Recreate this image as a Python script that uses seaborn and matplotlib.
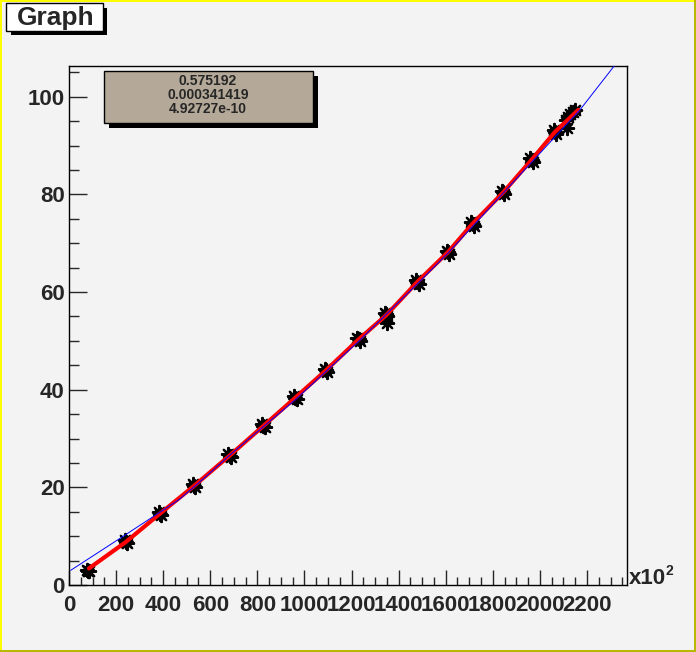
import matplotlib
matplotlib.use("Agg")
import matplotlib.pyplot as plt
from matplotlib.patches import Rectangle
from matplotlib.ticker import MultipleLocator
import pandas as pd
import seaborn as sns

# measured points (x in units of 10^2)
STAR_X = [76, 82, 87, 236, 241, 246, 381, 386, 391, 526, 531, 536, 677, 682, 687,
          821, 826, 831, 957, 962, 967, 1087, 1092, 1097, 1225, 1230, 1235,
          1343, 1348, 1352, 1350, 1475, 1480, 1485, 1605, 1610, 1615,
          1709, 1714, 1719, 1839, 1844, 1849, 1960, 1965, 1970,
          2058, 2064, 2069, 2116, 2110, 2120, 2130, 2140, 2150]
STAR_Y = [3.1, 2.8, 2.9, 9.2, 8.8, 8.6, 15.0, 14.6, 14.3, 20.7, 20.3, 20.0, 26.9, 26.5, 26.2,
          33.0, 32.6, 32.3, 38.7, 38.4, 38.1, 44.3, 44.0, 43.6, 50.6, 50.3, 49.9,
          55.8, 55.5, 55.1, 53.6, 62.5, 62.1, 61.7, 68.5, 68.2, 67.8,
          74.3, 74.0, 73.6, 80.7, 80.4, 80.0, 87.4, 87.1, 86.7,
          93.1, 92.8, 92.4, 93.5, 95.3, 95.9, 96.4, 96.9, 97.3]

# red curve through the measurements
RED_X = [85, 241, 386, 531, 682, 826, 962, 1092, 1230, 1348, 1480, 1610, 1714, 1844, 1965, 2064, 2163]
RED_Y = [3.4, 8.8, 14.6, 20.3, 26.5, 32.6, 38.4, 44.0, 50.3, 55.3, 62.1, 68.2, 74.0, 80.4, 87.1, 92.8, 97.3]

# blue fit curve
BLUE_X = [7, 234, 468, 567, 695, 960, 1230, 1480, 1610, 1801, 1965, 2170, 2330]
BLUE_Y = [3.0, 10.1, 17.5, 21.6, 27.1, 37.9, 49.9, 61.7, 68.0, 78.0, 86.6, 97.3, 107.2]

FIT_PARAMS = ["0.575192", "0.000341419", "4.92727e-10"]
X_TICKS = list(range(0, 2201, 200))
Y_TICKS = list(range(0, 101, 20))

sns.set_style("ticks")
plt.rcParams["font.family"] = ["Liberation Sans", "DejaVu Sans"]
plt.rcParams["font.weight"] = "bold"

W, H = 696, 652
BG = "#f3f3f3"
fig = plt.figure(figsize=(W / 100, H / 100), dpi=100, facecolor=BG)


def fx(px):
    return px / W


def fy(py):
    return 1 - py / H


def box(x0, y0, x1, y1, **kw):
    fig.patches.append(Rectangle((fx(x0), fy(y1)), fx(x1) - fx(x0), fy(y0) - fy(y1),
                                 transform=fig.transFigure, figure=fig, **kw))


# canvas border
box(0, 0, W, 2, color="#ffff00", lw=0)
box(0, 0, 2, H, color="#ffff00", lw=0)
box(0, H - 2, W, H, color="#b8b800", lw=0)
box(W - 2, 0, W, H, color="#b8b800", lw=0)

ax = fig.add_axes([fx(69), fy(585), fx(627) - fx(69), fy(66) - fy(585)])
ax.set_facecolor(BG)

stars = pd.DataFrame({"x": STAR_X, "y": STAR_Y})
red = pd.DataFrame({"x": RED_X, "y": RED_Y})
blue = pd.DataFrame({"x": BLUE_X, "y": BLUE_Y})

sns.scatterplot(data=stars, x="x", y="y", ax=ax, marker=(8, 2, 0), s=90,
                color="black", linewidth=1.6, edgecolor="black", zorder=2)
sns.lineplot(data=red, x="x", y="y", ax=ax, sort=False, estimator=None,
             color="#ff0000", linewidth=3, zorder=3)
sns.lineplot(data=blue, x="x", y="y", ax=ax, sort=False, estimator=None,
             color="#0000ff", linewidth=0.7, zorder=4)

ax.set_xlim(0, 2370)
ax.set_ylim(0, 106.3)
ax.set_xticks(X_TICKS)
ax.set_yticks(Y_TICKS)
ax.xaxis.set_minor_locator(MultipleLocator(50))
ax.yaxis.set_minor_locator(MultipleLocator(5))
ax.tick_params(which="both", direction="in", top=False, right=False,
               labelsize=16, width=1)
ax.tick_params(axis="x", which="major", length=11, pad=7)
ax.tick_params(axis="x", which="minor", length=5.5)
ax.tick_params(axis="y", which="major", length=13, pad=3)
ax.tick_params(axis="y", which="minor", length=7)
for lab in ax.get_xticklabels() + ax.get_yticklabels():
    lab.set_fontweight("bold")
for sp in ax.spines.values():
    sp.set_linewidth(1)
    sp.set_color("black")
ax.set_xlabel("")
ax.set_ylabel("")
if ax.get_legend():
    ax.get_legend().remove()

# x10^2 multiplier
fig.text(fx(629), fy(579), "x10", fontsize=16, fontweight="bold", ha="left", va="center")
fig.text(fx(665), fy(571), "2", fontsize=10, fontweight="bold", ha="left", va="center")

# title box
box(11, 8, 107, 35, color="black", lw=0)
box(6, 3, 103, 31, facecolor="white", edgecolor="black", lw=1)
fig.text(fx(56), fy(18), "Graph", fontsize=19, fontweight="bold", ha="center", va="center")

# parameter box
box(109, 76, 318, 128, color="black", lw=0)
box(104, 71, 313, 123, facecolor="#b4a898", edgecolor="black", lw=1)
for i, p in enumerate(FIT_PARAMS):
    fig.text(fx(208), fy(81 + 14 * i), p, fontsize=10, fontweight="bold",
             ha="center", va="center")

fig.savefig("out.png", dpi=100, facecolor=BG)
